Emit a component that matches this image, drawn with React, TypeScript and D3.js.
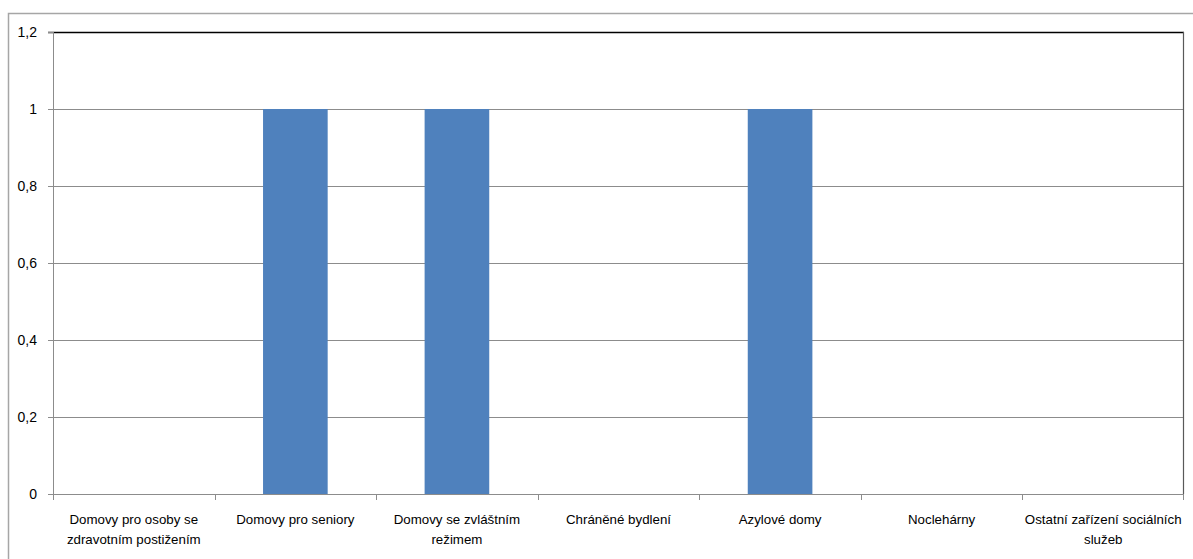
import React from "react";
import * as d3 from "d3";

const categories: string[][] = [
  ["Domovy pro osoby se", "zdravotním postižením"],
  ["Domovy pro seniory"],
  ["Domovy se zvláštním", "režimem"],
  ["Chráněné bydlení"],
  ["Azylové domy"],
  ["Noclehárny"],
  ["Ostatní zařízení sociálních", "služeb"],
];
const values: number[] = [0, 1, 1, 0, 1, 0, 0];
const yTicks: number[] = [0, 0.2, 0.4, 0.6, 0.8, 1, 1.2];

const W = 1193;
const H = 559;
const left = 53;
const right = 1184;
const top = 32;
const bottom = 494;

export default function App() {
  const keys = categories.map((_, i) => String(i));
  const x = d3.scaleBand<string>().domain(keys).range([left, right]).paddingInner(0).paddingOuter(0);
  const y = d3.scaleLinear().domain([0, 1.2]).range([bottom, top]);
  const bw = x.bandwidth();
  const barW = bw * 0.4;
  const font = "'Liberation Sans', Arial, sans-serif";
  const fmt = (v: number) => (Math.round(v * 10) / 10).toString().replace(".", ",");

  return (
    <svg width={W} height={H} style={{ position: "fixed", left: 0, top: 0, background: "#fff" }}>
      <rect x={8.5} y={13.5} width={W} height={H} fill="#fff" stroke="#a6a6a6" strokeWidth={1.5} />
      {yTicks.map((t) => (
        <line key={"g" + t} x1={left - 5} x2={right} y1={Math.round(y(t)) + 0.5} y2={Math.round(y(t)) + 0.5}
          stroke={t === 1.2 ? "#000" : "#8c8c8c"} strokeWidth={t === 1.2 ? 1.5 : 1} />
      ))}
      {yTicks.map((t) => (
        <line key={"tk" + t} x1={left - 5} x2={left} y1={Math.round(y(t)) + 0.5} y2={Math.round(y(t)) + 0.5} stroke="#8c8c8c" />
      ))}
      {values.map((v, i) => (
        <rect key={"b" + i} x={(x(String(i)) as number) + (bw - barW) / 2} y={y(v)} width={barW}
          height={bottom - y(v)} fill="#4f81bd" />
      ))}
      <line x1={left + 0.5} x2={left + 0.5} y1={top} y2={bottom} stroke="#8c8c8c" />
      <line x1={right - 0.5} x2={right - 0.5} y1={top} y2={bottom} stroke="#595959" strokeWidth={1.2} />
      <line x1={left} x2={right} y1={bottom + 0.5} y2={bottom + 0.5} stroke="#8c8c8c" />
      {keys.map((k, i) => (
        <line key={"xt" + i} x1={Math.round(x(k) as number) + 0.5} x2={Math.round(x(k) as number) + 0.5}
          y1={bottom} y2={bottom + 6} stroke="#8c8c8c" />
      ))}
      <line x1={right - 0.5} x2={right - 0.5} y1={bottom} y2={bottom + 6} stroke="#8c8c8c" />
      {yTicks.map((t) => (
        <text key={"yl" + t} x={37} y={y(t)} dy="0.35em" textAnchor="end" fontFamily={font} fontSize={14} fill="#000">
          {fmt(t)}
        </text>
      ))}
      {categories.map((lines, i) => (
        <text key={"xl" + i} x={(x(String(i)) as number) + bw / 2} y={524} textAnchor="middle" fontFamily={font}
          fontSize={13.3} fill="#000">
          {lines.map((l, j) => (
            <tspan key={j} x={(x(String(i)) as number) + bw / 2} dy={j === 0 ? 0 : 20}>{l}</tspan>
          ))}
        </text>
      ))}
    </svg>
  );
}
